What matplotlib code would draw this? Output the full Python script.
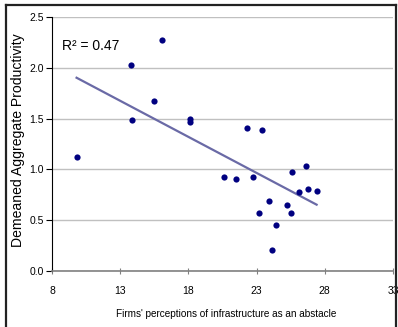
import numpy as np
import matplotlib
matplotlib.use("Agg")
import matplotlib.pyplot as plt
from matplotlib.lines import Line2D

plt.rcParams['font.family'] = ['Liberation Sans', 'DejaVu Sans']

# datos
obstaculo = [9.8, 13.8, 16.1, 13.9, 15.5, 18.1, 18.1, 22.3, 23.4, 20.6, 21.5,
             22.7, 25.6, 26.6, 26.1, 26.8, 27.4, 23.9, 23.2, 25.2, 25.5, 24.4, 24.1]
productividad = [1.12, 2.03, 2.27, 1.49, 1.67, 1.50, 1.47, 1.41, 1.39, 0.93, 0.91,
                 0.93, 0.97, 1.03, 0.78, 0.81, 0.79, 0.69, 0.57, 0.65, 0.57, 0.45, 0.21]
xticks = [8, 13, 18, 23, 28, 33]
yticks = [0.0, 0.5, 1.0, 1.5, 2.0, 2.5]
r2_texto = "R² = 0.47"

x = np.array(obstaculo)
y = np.array(productividad)
m, b = np.polyfit(x, y, 1)
xl = np.array([x.min(), x.max()])

fig = plt.figure(figsize=(3.98, 3.27), dpi=100)
ax = fig.add_axes([0.1307, 0.1713, 0.8567, 0.7767])

ax.grid(True, axis='y', color='#c0c0c0', linewidth=1.0)
ax.set_axisbelow(True)
ax.plot(xl, m * xl + b, color='#6a6aa6', linewidth=1.6, zorder=3)
ax.scatter(x, y, s=20, color='#000080', zorder=4, linewidths=0)

ax.set_xlim(8, 33)
ax.set_ylim(0, 2.5)
ax.set_xticks(xticks)
ax.set_yticks(yticks)
ax.set_yticklabels([f"{v:.1f}" for v in yticks])
ax.tick_params(axis='x', direction='inout', length=5, color='#808080', labelsize=7.5, pad=8)
ax.tick_params(axis='y', direction='out', length=4, color='black', labelsize=7.5, pad=2)

for s in ['top', 'right']:
    ax.spines[s].set_visible(False)
ax.spines['left'].set_color('black')
ax.spines['bottom'].set_color('#808080')
ax.spines['bottom'].set_linewidth(1.2)

ax.set_xlabel("Firms' perceptions of infrastructure as an abstacle", fontsize=7.2)
ax.xaxis.set_label_coords(0.51, -0.15)
ax.set_ylabel("Demeaned Aggregate Productivity", fontsize=10.1)
ax.yaxis.set_label_coords(-0.078, 0.515)

ax.text(0.03, 0.885, r2_texto, transform=ax.transAxes, fontsize=10, va='center', ha='left')

# marco exterior
W, H = 398, 327
borde = dict(color='#222222', linewidth=1.6, transform=fig.transFigure)
fig.add_artist(Line2D([6 / W, 396 / W], [1 - 5 / H, 1 - 5 / H], **borde))
fig.add_artist(Line2D([6 / W, 6 / W], [0, 1 - 5 / H], **borde))
fig.add_artist(Line2D([396 / W, 396 / W], [0, 1 - 5 / H], **borde))

fig.savefig("out.png", dpi=100)
